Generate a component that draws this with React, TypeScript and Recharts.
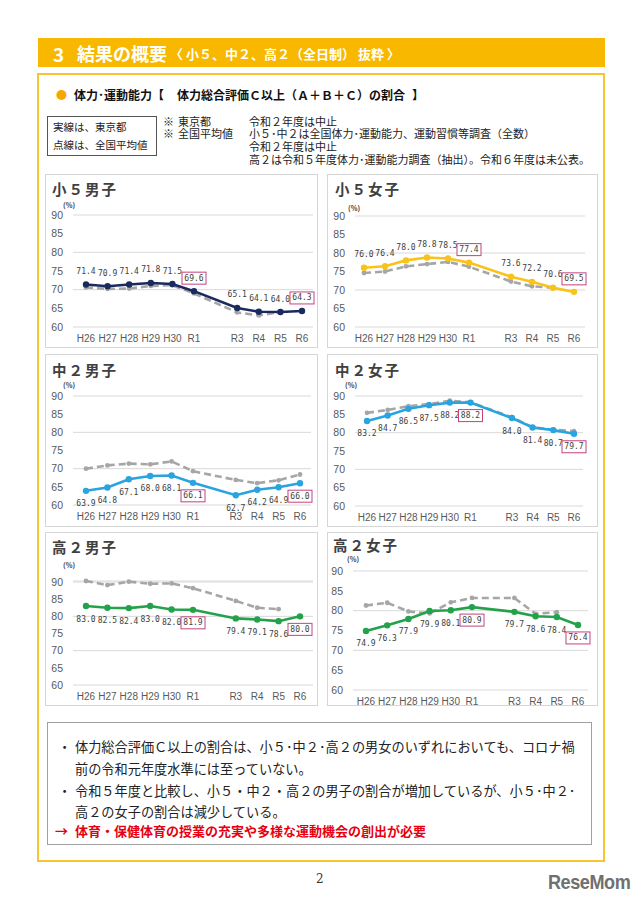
import React from 'react';
import { LineChart, Line, XAxis, YAxis, CartesianGrid } from 'recharts';

const years = ['H26', 'H27', 'H28', 'H29', 'H30', 'R1', 'R2', 'R3', 'R4', 'R5', 'R6'];
const hiddenYears = ['R2'];
const boxedYears = ['R1', 'R6'];
const yTicks = [60, 65, 70, 75, 80, 85, 90];

const boy5Tokyo = [71.4, 70.9, 71.4, 71.8, 71.5, 69.6, null, 65.1, 64.1, 64.0, 64.3];
const boy5National = [70.6, 70.2, 70.3, 71.0, 71.2, 69.0, null, 63.9, 63.1, 64.0, null];
const girl5Tokyo = [76.0, 76.4, 78.0, 78.8, 78.5, 77.4, null, 73.6, 72.2, 70.6, 69.5];
const girl5National = [74.6, 75.0, 76.4, 77.0, 77.6, 76.3, null, 72.3, 71.0, 70.6, null];
const boy2Tokyo = [63.9, 64.8, 67.1, 68.0, 68.1, 66.1, null, 62.7, 64.2, 64.9, 66.0];
const boy2National = [70.0, 70.9, 71.4, 71.2, 72.0, 69.3, null, 66.9, 66.0, 66.8, 68.4];
const girl2Tokyo = [83.2, 84.7, 86.5, 87.5, 88.2, 88.2, null, 84.0, 81.4, 80.7, 79.7];
const girl2National = [85.4, 86.2, 87.2, 87.8, 88.7, 88.3, null, 84.2, 81.5, 80.8, 80.4];
const boyHTokyo = [83.0, 82.5, 82.4, 83.0, 82.0, 81.9, null, 79.4, 79.1, 78.6, 80.0];
const boyHNational = [90.3, 89.1, 90.1, 89.5, 89.6, 88.2, null, 84.5, 82.5, 82.1, null];
const girlHTokyo = [74.9, 76.3, 77.9, 79.9, 80.1, 80.9, null, 79.7, 78.6, 78.4, 76.4];
const girlHNational = [81.3, 82.0, 79.8, 79.3, 82.1, 83.2, null, 83.2, 79.2, 79.6, null];

const JP = '"Noto Sans CJK JP", "Noto Sans", sans-serif';
const MONO = '"DejaVu Sans Mono", "Liberation Mono", monospace';
const SANS = '"Liberation Sans", Arial, sans-serif';

type TxtProps = {
  x: number; y: number; size: number; children: React.ReactNode;
  color?: string; bold?: boolean; ls?: number; family?: string; sx?: number;
};

function Txt({ x, y, size, children, color = '#222', bold = false, ls = 0, family = JP, sx = 1 }: TxtProps) {
  const h = Math.round(size * 1.1);
  return (
    <div
      style={{
        position: 'absolute', left: x, top: y - h / 2, height: h, lineHeight: h + 'px',
        fontSize: size, fontWeight: bold ? 700 : 400, color, letterSpacing: ls,
        fontFamily: family, whiteSpace: 'nowrap',
        transform: sx !== 1 ? `scaleX(${sx})` : undefined, transformOrigin: 'left center',
      }}
    >
      {children}
    </div>
  );
}

type Geo = {
  px: number; py: number; pw: number; ph: number;
  l: number; r: number; t: number; b: number;
  x0: number; x1: number;
  tx: number; ty: number; cx: number; cy: number;
};

function makeDot(color: string, pos: 'top' | 'bottom') {
  return (props: any) => {
    const { cx, cy, index, payload } = props;
    if (cx == null || cy == null || payload == null || payload.tokyo == null) {
      return <g key={'d' + index} />;
    }
    const ly = pos === 'top' ? cy - 13 : cy + 13;
    const boxed = boxedYears.includes(payload.year);
    return (
      <g key={'d' + index}>
        <circle cx={cx} cy={cy} r={3.2} fill={color} />
        {boxed && (
          <rect x={cx - 12} y={ly - 6} width={24} height={12} fill="#ffffff" stroke="#C4427D" strokeWidth={1} />
        )}
        <text
          x={cx} y={ly} textAnchor="middle" dominantBaseline="central"
          fontSize={8} fontFamily={MONO} fill="#404040"
        >
          {Number(payload.tokyo).toFixed(1)}
        </text>
      </g>
    );
  };
}

type PanelProps = {
  title: string; tokyo: (number | null)[]; national: (number | null)[];
  color: string; pos: 'top' | 'bottom'; g: Geo;
};

function Panel({ title, tokyo, national, color, pos, g }: PanelProps) {
  const data = years.map((y, i) => ({ year: y, tokyo: tokyo[i], national: national[i] }));
  const L = g.l - 30;
  const T = g.t - 10;
  const W = g.r - g.l + 40;
  const H = g.b - g.t + 35;
  return (
    <>
      <div
        style={{
          position: 'absolute', left: g.px, top: g.py, width: g.pw, height: g.ph,
          border: '1px solid #D6D6D6', boxSizing: 'border-box', background: '#fff',
        }}
      />
      <Txt x={g.tx} y={g.ty} size={14.5} bold color="#404040" ls={2}>{title}</Txt>
      <Txt x={g.cx} y={g.cy} size={7} bold color="#404040">(%)</Txt>
      <div style={{ position: 'absolute', left: L, top: T }}>
        <LineChart width={W} height={H} data={data} margin={{ top: 10, right: 10, left: 10, bottom: 0 }}>
          <CartesianGrid vertical={false} stroke="#D9D9D9" />
          <XAxis
            dataKey="year" height={25} axisLine={false} tickLine={false} interval={0}
            padding={{ left: g.x0 - g.l, right: g.r - g.x1 }}
            tickFormatter={(v: string) => (hiddenYears.includes(v) ? '' : v)}
            tick={{ fontSize: 10, fill: '#595959', fontFamily: SANS }}
          />
          <YAxis
            domain={[60, 90]} ticks={yTicks} width={20} axisLine={false} tickLine={false}
            tickMargin={4} tick={{ fontSize: 10.5, fill: '#595959', fontFamily: SANS }}
          />
          <Line
            dataKey="national" stroke="#A6A6A6" strokeWidth={2.6} strokeDasharray="7 4"
            dot={{ r: 2.4, fill: '#A6A6A6', stroke: 'none' }} connectNulls isAnimationActive={false}
          />
          <Line
            dataKey="tokyo" stroke={color} strokeWidth={2.6}
            dot={makeDot(color, pos)} connectNulls isAnimationActive={false}
          />
        </LineChart>
      </div>
    </>
  );
}

const geo5b: Geo = { px: 45, py: 174, pw: 273, ph: 174, l: 73, r: 313, t: 215, b: 327, x0: 86, x1: 302, tx: 52, ty: 189, cx: 63, cy: 205 };
const geo5g: Geo = { px: 327, py: 174, pw: 271, ph: 174, l: 355, r: 585, t: 216, b: 327, x0: 364, x1: 574, tx: 335, ty: 189, cx: 348, cy: 208 };
const geo2b: Geo = { px: 45, py: 354, pw: 273, ph: 173, l: 73, r: 311, t: 396, b: 505, x0: 86, x1: 300, tx: 52, ty: 370, cx: 63, cy: 385 };
const geo2g: Geo = { px: 327, py: 354, pw: 271, ph: 173, l: 355, r: 583, t: 396, b: 506, x0: 367, x1: 574, tx: 335, ty: 370, cx: 345, cy: 385 };
const geoHb: Geo = { px: 45, py: 532, pw: 273, ph: 174, l: 73, r: 313, t: 581, b: 685, x0: 86, x1: 300, tx: 52, ty: 547, cx: 63, cy: 565 };
const geoHg: Geo = { px: 327, py: 532, pw: 271, ph: 174, l: 353, r: 588, t: 571, b: 690, x0: 366, x1: 578, tx: 333, ty: 545, cx: 347, cy: 559 };

export default function App() {
  return (
    <div style={{ position: 'absolute', left: 0, top: 0, width: 640, height: 905, background: '#fff', overflow: 'hidden', fontFamily: JP }}>
      {/* header bar */}
      <div style={{ position: 'absolute', left: 38, top: 38, width: 567, height: 29, background: '#F8B800' }} />
      <Txt x={53} y={53} size={19} bold color="#fff">3</Txt>
      <Txt x={77} y={53} size={18} bold color="#fff">結果の概要</Txt>
      <Txt x={170} y={54} size={13} bold color="#fff">〈 小５、中２、高２（全日制） 抜粋 〉</Txt>

      {/* outer yellow frame */}
      <div style={{ position: 'absolute', left: 37, top: 73, width: 568, height: 789, border: '2px solid #F7C533', boxSizing: 'border-box' }} />

      <Txt x={56} y={94} size={11} color="#F6A800">●</Txt>
      <Txt x={74} y={94} size={12} bold color="#111">体力･運動能力</Txt>
      <Txt x={152} y={94} size={12} bold color="#111">【</Txt>
      <Txt x={177} y={94} size={12} bold color="#111">体力総合評価Ｃ以上（Ａ＋Ｂ＋Ｃ）の割合</Txt>
      <Txt x={412} y={94} size={12} bold color="#111">】</Txt>

      {/* legend box */}
      <div style={{ position: 'absolute', left: 47, top: 116, width: 110, height: 40, border: '1px solid #555', boxSizing: 'border-box' }} />
      <Txt x={53} y={127} size={10.5} color="#222">実線は、東京都</Txt>
      <Txt x={53} y={145} size={10.5} color="#222">点線は、全国平均値</Txt>

      {/* notes */}
      <Txt x={163} y={121} size={11} color="#222">※</Txt>
      <Txt x={178} y={121} size={11} color="#222">東京都</Txt>
      <Txt x={249} y={121} size={11} color="#222">令和２年度は中止</Txt>
      <Txt x={163} y={133} size={11} color="#222">※</Txt>
      <Txt x={178} y={133} size={11} color="#222">全国平均値</Txt>
      <Txt x={249} y={133} size={11} color="#222">小５･中２は全国体力･運動能力、運動習慣等調査（全数）</Txt>
      <Txt x={249} y={146} size={11} color="#222">令和２年度は中止</Txt>
      <Txt x={249} y={159} size={11} color="#222">高２は令和５年度体力･運動能力調査（抽出）。令和６年度は未公表。</Txt>

      <Panel title="小５男子" tokyo={boy5Tokyo} national={boy5National} color="#1B2A5E" pos="top" g={geo5b} />
      <Panel title="小５女子" tokyo={girl5Tokyo} national={girl5National} color="#F9C31A" pos="top" g={geo5g} />
      <Panel title="中２男子" tokyo={boy2Tokyo} national={boy2National} color="#2AA4DF" pos="bottom" g={geo2b} />
      <Panel title="中２女子" tokyo={girl2Tokyo} national={girl2National} color="#2AA4DF" pos="bottom" g={geo2g} />
      <Panel title="高２男子" tokyo={boyHTokyo} national={boyHNational} color="#23A24B" pos="bottom" g={geoHb} />
      <Panel title="高２女子" tokyo={girlHTokyo} national={girlHNational} color="#23A24B" pos="bottom" g={geoHg} />

      {/* summary box */}
      <div style={{ position: 'absolute', left: 47, top: 722, width: 545, height: 123, border: '1px solid #A0A0A0', boxSizing: 'border-box' }} />
      <Txt x={58} y={746} size={13.2} color="#222">・</Txt>
      <Txt x={75} y={746} size={13.2} color="#222">体力総合評価Ｃ以上の割合は、小５･中２･高２の男女のいずれにおいても、コロナ禍</Txt>
      <Txt x={75} y={768} size={13.2} color="#222">前の令和元年度水準には至っていない。</Txt>
      <Txt x={58} y={790} size={13.2} color="#222">・</Txt>
      <Txt x={75} y={790} size={13.2} color="#222">令和５年度と比較し、小５・中２・高２の男子の割合が増加しているが、小５･中２･</Txt>
      <Txt x={75} y={811} size={13.2} color="#222">高２の女子の割合は減少している。</Txt>
      <Txt x={55} y={831} size={13} bold color="#E60012">→</Txt>
      <Txt x={75} y={831} size={13} bold color="#E60012">体育・保健体育の授業の充実や多様な運動機会の創出が必要</Txt>

      <Txt x={316} y={879} size={12} color="#333" family='"DejaVu Serif", "Liberation Serif", serif'>2</Txt>
      <Txt x={548} y={881} size={21} bold color="#707070" family={SANS} sx={0.86} ls={-0.5}>ReseMom</Txt>
    </div>
  );
}
